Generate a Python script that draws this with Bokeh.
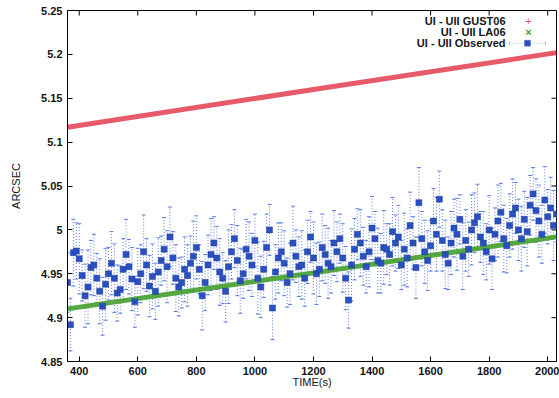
import math
from bokeh.plotting import figure
from bokeh.models import (Range1d, Whisker, TeeHead, ColumnDataSource,
                          Label, PolyAnnotation, BoxAnnotation, FixedTicker)
from bokeh.embed import file_html
from bokeh.resources import INLINE

# ---------------- data ----------------
x_ticks = [400, 600, 800, 1000, 1200, 1400, 1600, 1800, 2000]
x_tick_labels = ["400", "600", "800", "1000", "1200", "1400", "1600", "1800", "2000"]
y_ticks = [4.85, 4.9, 4.95, 5.0, 5.05, 5.1, 5.15, 5.2, 5.25]
y_tick_labels = ["4.85", "4.9", "4.95", "5", "5.05", "5.1", "5.15", "5.2", "5.25"]
x_min, x_max = 360, 2030
y_min, y_max = 4.85, 5.25

model_t = [360, 1200, 2030]
gust06 = [5.117, 5.160, 5.202]
la06 = [4.910, 4.951, 4.992]

obs_t = list(range(360, 2031, 10))
observed = [
    4.940, 4.892, 4.974, 4.976, 4.967, 4.948, 4.925, 4.935, 4.957, 4.960,
    4.945, 4.930, 4.913, 4.938, 4.950, 4.962, 4.945, 4.928, 4.932, 4.955,
    4.972, 4.958, 4.944, 4.918, 4.941, 4.950, 4.975, 4.960, 4.936, 4.947,
    4.930, 4.952, 4.965, 4.978, 4.958, 4.992, 4.968, 4.945, 4.935, 4.940,
    4.955, 4.948, 4.962, 4.970, 4.980, 4.955, 4.925, 4.940, 4.960, 4.972,
    4.985, 4.968, 4.952, 4.945, 4.930, 4.958, 4.975, 4.990, 4.965, 4.942,
    4.950, 4.978, 4.970, 4.960, 4.988, 4.945, 4.935, 4.955, 4.980, 5.000,
    4.911, 4.952, 4.968, 4.975, 4.962, 4.940, 4.950, 4.985, 4.970, 4.958,
    4.960, 4.945, 4.975, 4.992, 4.968, 4.950, 4.955, 4.980, 4.972, 4.962,
    4.958, 4.985, 4.975, 4.990, 4.968, 4.945, 4.920, 4.960, 4.978, 4.995,
    4.985, 4.970, 4.958, 4.975, 5.002, 4.990, 4.965, 4.962, 4.980, 4.978,
    4.972, 4.998, 4.985, 4.992, 4.960, 4.978, 4.968, 5.005, 4.985, 4.957,
    5.031, 4.990, 4.975, 4.965, 4.982, 5.010, 4.995, 5.035, 4.988, 4.972,
    4.962, 4.985, 5.002, 4.995, 5.012, 4.970, 4.988, 4.978, 5.000, 5.008,
    5.015, 4.992, 4.985, 4.975, 5.000, 4.967, 4.995, 5.010, 5.020, 4.990,
    4.982, 5.005, 5.018, 5.025, 5.000, 4.990, 5.012, 4.998, 5.028, 5.041,
    5.022, 5.010, 4.995, 5.034, 5.015, 5.025, 5.005, 5.018,
]
obs_err = [
    0.034, 0.030, 0.038, 0.032, 0.040, 0.029, 0.036, 0.042, 0.031, 0.035,
    0.028, 0.037, 0.033, 0.041, 0.030, 0.036, 0.039, 0.032, 0.027, 0.035,
    0.040, 0.031, 0.036, 0.029, 0.038, 0.033, 0.042, 0.030, 0.035, 0.037,
    0.032, 0.039, 0.028, 0.036, 0.041, 0.034, 0.030, 0.038, 0.033, 0.029,
    0.037, 0.035, 0.031, 0.040, 0.036, 0.028, 0.039, 0.032, 0.034, 0.041,
    0.030, 0.036, 0.038, 0.029, 0.035, 0.042, 0.031, 0.033, 0.040, 0.037,
    0.028, 0.034, 0.039, 0.036, 0.030, 0.041, 0.035, 0.032, 0.038, 0.029,
    0.036, 0.031, 0.040, 0.033, 0.037, 0.028, 0.035, 0.042, 0.030, 0.034,
    0.039, 0.032, 0.036, 0.029, 0.041, 0.035, 0.031, 0.038, 0.033, 0.040,
    0.030, 0.037, 0.034, 0.028, 0.039, 0.036, 0.032, 0.041, 0.035, 0.029,
    0.038, 0.033, 0.030, 0.040, 0.036, 0.031, 0.037, 0.034, 0.042, 0.029,
    0.035, 0.039, 0.032, 0.036, 0.028, 0.041, 0.033, 0.038, 0.030, 0.035,
    0.040, 0.031, 0.036, 0.034, 0.029, 0.037, 0.042, 0.032, 0.035, 0.039,
    0.030, 0.036, 0.033, 0.041, 0.028, 0.038, 0.035, 0.031, 0.040, 0.034,
    0.037, 0.029, 0.036, 0.032, 0.039, 0.035, 0.030, 0.041, 0.033, 0.038,
    0.031, 0.036, 0.040, 0.029, 0.035, 0.037, 0.032, 0.039, 0.034, 0.030,
    0.036, 0.041, 0.033, 0.038, 0.031, 0.035, 0.040, 0.032,
]

# ---------------- styling ----------------
FONT = "Liberation Sans"
RED = "#e4485a"
GREEN = "#44a02c"
BLUE = "#2a50c0"
BLUE_ERR = "#5a7de0"
TXT = "#151515"

p = figure(width=559, height=398, x_range=Range1d(x_min, x_max), y_range=Range1d(y_min, y_max),
           output_backend="svg", toolbar_location=None,
           min_border_left=67, min_border_right=3, min_border_top=10, min_border_bottom=37)
p.grid.visible = False
p.outline_line_color = "black"
p.outline_line_width = 1
p.background_fill_color = "white"
p.border_fill_color = "white"

p.xaxis.ticker = FixedTicker(ticks=x_ticks)
p.xaxis.major_label_overrides = dict(zip(x_ticks, x_tick_labels))
p.yaxis.ticker = FixedTicker(ticks=y_ticks)
p.yaxis.major_label_overrides = dict(zip(y_ticks, y_tick_labels))

for ax in (p.xaxis[0], p.yaxis[0]):
    ax.major_tick_in = 5
    ax.major_tick_out = 0
    ax.minor_tick_in = 0
    ax.minor_tick_out = 0
    ax.axis_line_color = "black"
    ax.major_tick_line_color = "black"
    ax.major_label_text_font = FONT
    ax.major_label_text_font_size = "11px"
    ax.major_label_text_font_style = "bold"
    ax.major_label_text_color = TXT
    ax.axis_label_text_font = FONT
    ax.axis_label_text_font_size = "11px"
    ax.axis_label_text_font_style = "normal"
    ax.axis_label_text_color = TXT

p.xaxis.axis_label = "TIME(s)"
p.yaxis.axis_label = "ARCSEC"
p.xaxis.major_label_standoff = 5
p.xaxis.axis_label_standoff = -2
p.yaxis.major_label_standoff = 5
p.yaxis.axis_label_standoff = 16

# mirrored ticks on top and right (gnuplot style), as short screen-length rays
p.ray(x=x_ticks, y=[y_max] * len(x_ticks), length=5, length_units="screen",
      angle=-math.pi / 2, line_color="black", line_width=1)
p.ray(x=[x_max] * len(y_ticks), y=y_ticks, length=5, length_units="screen",
      angle=math.pi, line_color="black", line_width=1)

# ---------------- glyphs ----------------
p.line(model_t, gust06, line_color=RED, line_width=5, line_alpha=0.9)
p.line(model_t, la06, line_color=GREEN, line_width=5, line_alpha=0.9)

src = ColumnDataSource(dict(
    t=obs_t, y=observed,
    lo=[v - e for v, e in zip(observed, obs_err)],
    hi=[v + e for v, e in zip(observed, obs_err)],
))
wh = Whisker(source=src, base="t", upper="hi", lower="lo", dimension="height",
             line_color=BLUE_ERR, line_width=1, line_dash="1 2",
             upper_head=TeeHead(size=4, line_color=BLUE_ERR, line_width=1),
             lower_head=TeeHead(size=4, line_color=BLUE_ERR, line_width=1))
p.add_layout(wh)
p.scatter("t", "y", source=src, marker="square", size=6, fill_color=BLUE,
          line_color="#1d3c9c", line_width=0.5)

# ---------------- legend (gnuplot style: text right-aligned, sample at right) ----------------
# screen units are measured from the frame's bottom-left corner
legend_rows = [("UI - UII GUST06", 340.3), ("UI - UII LA06", 329.3), ("UI - UII Observed", 318.3)]
for txt, yy in legend_rows:
    p.add_layout(Label(x=438, y=yy, x_units="screen", y_units="screen", text=txt,
                       text_align="right", text_baseline="middle", text_font=FONT,
                       text_font_size="11px", text_font_style="bold", text_color=TXT))
p.add_layout(Label(x=461, y=340.3, x_units="screen", y_units="screen", text="+",
                   text_align="center", text_baseline="middle", text_font=FONT,
                   text_font_size="10px", text_color=RED))
p.add_layout(Label(x=461, y=329.3, x_units="screen", y_units="screen", text="×",
                   text_align="center", text_baseline="middle", text_font=FONT,
                   text_font_size="11px", text_font_style="bold", text_color=GREEN))
ly = 318.3
p.add_layout(PolyAnnotation(xs=[442, 478, 478, 442], ys=[ly, ly, ly, ly],
                            xs_units="screen", ys_units="screen", fill_alpha=0,
                            line_color=BLUE_ERR, line_dash="1 2", line_width=1))
for cx in (442, 478):
    p.add_layout(PolyAnnotation(xs=[cx, cx, cx, cx], ys=[ly - 2, ly + 2, ly + 2, ly - 2],
                                xs_units="screen", ys_units="screen", fill_alpha=0,
                                line_color=BLUE_ERR, line_width=1))
p.add_layout(BoxAnnotation(left=457, right=463, bottom=ly - 3, top=ly + 3,
                           left_units="screen", right_units="screen",
                           bottom_units="screen", top_units="screen",
                           fill_color=BLUE, fill_alpha=1, line_color=BLUE))

open("out.html", "w").write(file_html(p, INLINE))
